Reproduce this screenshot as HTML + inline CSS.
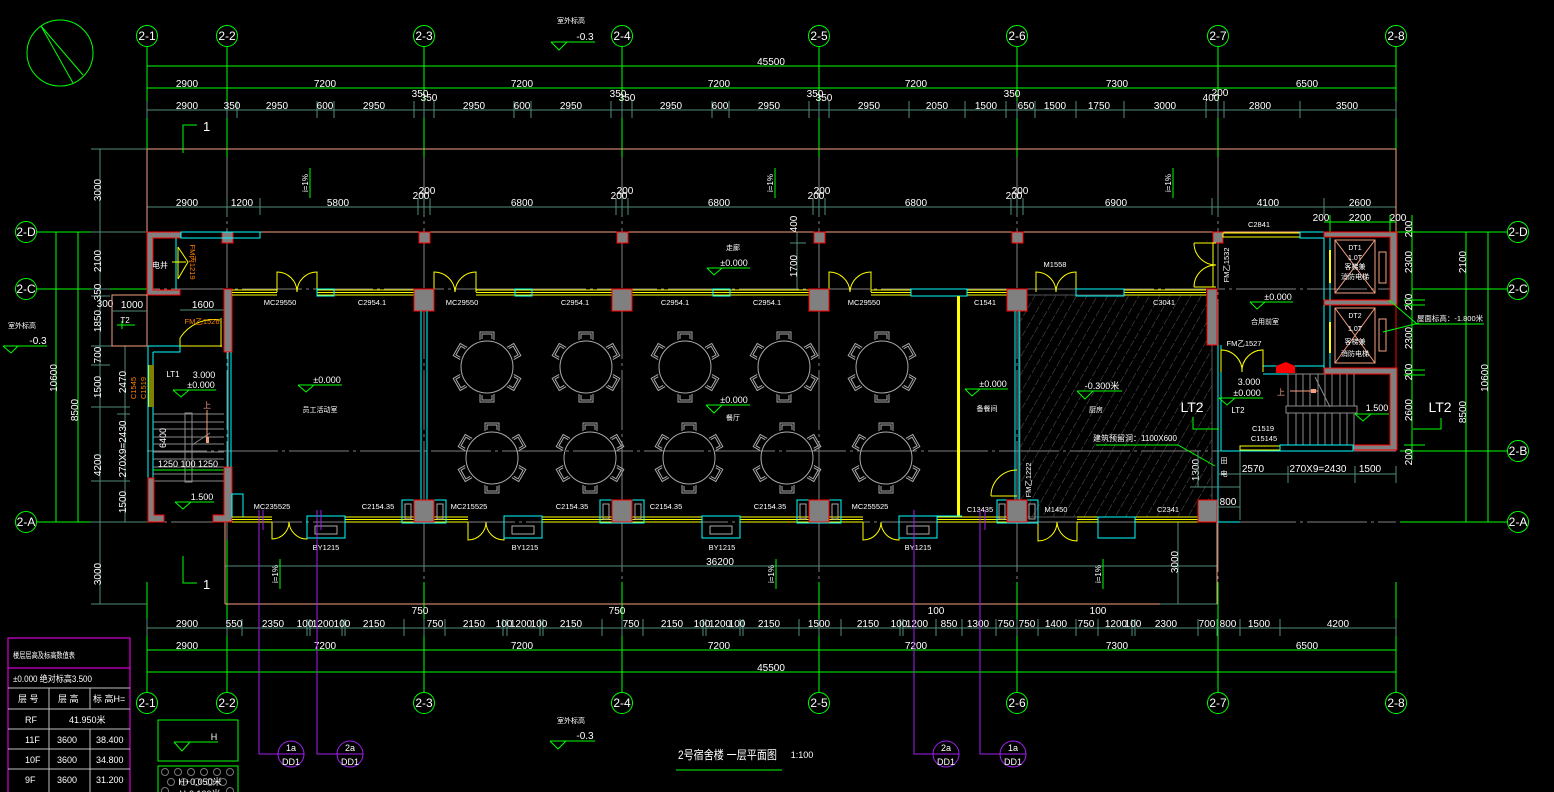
<!DOCTYPE html>
<html><head><meta charset="utf-8"><style>
html,body{margin:0;padding:0;background:#000;}
svg{display:block;}
text{font-family:"Liberation Sans","Noto Sans CJK SC",sans-serif;fill:#fff;}
.d{font-size:10px;text-anchor:middle;}
.ax{font-size:12px;text-anchor:middle;}
.o{fill:#ff8000;font-size:7.5px;text-anchor:middle;}
.s{font-size:8px;text-anchor:middle;}
.g{fill:#0f0;}
</style></head><body>
<svg width="1554" height="792" viewBox="0 0 1554 792" xmlns="http://www.w3.org/2000/svg">
<defs>
<pattern id="hat" width="9" height="9" patternUnits="userSpaceOnUse" patternTransform="rotate(30)">
<line x1="0" y1="0" x2="0" y2="9" stroke="#5a5a5a" stroke-width="1" stroke-dasharray="5 2"/>
</pattern>
<g id="ch"><path d="M-7,-27V-35H7V-27M-5,-28V-33H5V-28" fill="none" stroke="#aaa"/></g>
<g id="tb"><circle r="26" fill="none" stroke="#aaa"/>
<use href="#ch"/><use href="#ch" transform="rotate(60)"/><use href="#ch" transform="rotate(120)"/><use href="#ch" transform="rotate(180)"/><use href="#ch" transform="rotate(240)"/><use href="#ch" transform="rotate(300)"/></g>
</defs>
<rect width="1554" height="792" fill="#000"/>

<!-- North arrow -->
<circle cx="60" cy="53" r="33" fill="none" stroke="#0f0"/>
<path d="M41 26L73 83M41 26L83 75" stroke="#0f0" fill="none"/>

<!-- gray axis lines inside -->
<g stroke="#808080" stroke-dasharray="60 4 3 4" fill="none">
<path d="M227 157V582M424 157V582M622 157V582M819 157V582M1017 157V582M1218 157V582"/>
<path d="M100 289H1396M147 451H1396M100 522H1396"/>
</g>

<!-- top axis bubbles -->
<g fill="none" stroke="#0f0">
<circle cx="147" cy="36" r="10.5"/><circle cx="227" cy="36" r="10.5"/><circle cx="424" cy="36" r="10.5"/><circle cx="622" cy="36" r="10.5"/><circle cx="819" cy="36" r="10.5"/><circle cx="1017" cy="36" r="10.5"/><circle cx="1218" cy="36" r="10.5"/><circle cx="1396" cy="36" r="10.5"/>
<circle cx="147" cy="703" r="10.5"/><circle cx="227" cy="703" r="10.5"/><circle cx="424" cy="703" r="10.5"/><circle cx="622" cy="703" r="10.5"/><circle cx="819" cy="703" r="10.5"/><circle cx="1017" cy="703" r="10.5"/><circle cx="1218" cy="703" r="10.5"/><circle cx="1396" cy="703" r="10.5"/>
<circle cx="26" cy="232" r="10.5"/><circle cx="26" cy="289" r="10.5"/><circle cx="26" cy="522" r="10.5"/>
<circle cx="1518" cy="232" r="10.5"/><circle cx="1518" cy="289" r="10.5"/><circle cx="1518" cy="451" r="10.5"/><circle cx="1518" cy="522" r="10.5"/>
<path d="M147 47V149M227 47V157M424 47V157M622 47V157M819 47V157M1017 47V157M1218 47V157M1396 47V157"/>
<path d="M147 582V692M227 540V692M424 582V692M622 582V692M819 582V692M1017 582V692M1218 582V692M1396 582V692"/>
<path d="M37 232H100M37 289H147M37 522H147"/>
<path d="M1396 232H1507M1412 289H1507M1400 451H1507M1400 522H1507"/>
</g>
<g class="ax">
<text x="147" y="40" class="ax">2-1</text><text x="227" y="40" class="ax">2-2</text><text x="424" y="40" class="ax">2-3</text><text x="622" y="40" class="ax">2-4</text><text x="819" y="40" class="ax">2-5</text><text x="1017" y="40" class="ax">2-6</text><text x="1218" y="40" class="ax">2-7</text><text x="1396" y="40" class="ax">2-8</text>
<text x="147" y="707" class="ax">2-1</text><text x="227" y="707" class="ax">2-2</text><text x="424" y="707" class="ax">2-3</text><text x="622" y="707" class="ax">2-4</text><text x="819" y="707" class="ax">2-5</text><text x="1017" y="707" class="ax">2-6</text><text x="1218" y="707" class="ax">2-7</text><text x="1396" y="707" class="ax">2-8</text>
<text x="26" y="236" class="ax">2-D</text><text x="26" y="293" class="ax">2-C</text><text x="26" y="526" class="ax">2-A</text>
<text x="1518" y="236" class="ax">2-D</text><text x="1518" y="293" class="ax">2-C</text><text x="1518" y="455" class="ax">2-B</text><text x="1518" y="526" class="ax">2-A</text>
</g>

<!-- top dimension lines -->
<g stroke="#0f0" fill="none">
<path d="M147 66H1396M147 88H1396"/>
<path d="M147 62V70M1396 62V70M147 84V92M227 84V92M424 84V92M622 84V92M819 84V92M1017 84V92M1218 84V92M1396 84V92"/>
<path d="M147 650H1396M147 672H1396"/>
<path d="M147 646V654M227 646V654M424 646V654M622 646V654M819 646V654M1017 646V654M1218 646V654M1396 646V654M147 668V676M1396 668V676"/>
</g>
<g stroke="#4f8c7d" fill="none">
<path d="M147 110H1396M91 149H147M147 207H1396M91 232H147"/>
<path d="M147 101V118M227 101V118M237 101V118M317 101V118M334 101V118M414 101V118M424 101V118M434 101V118M514 101V118M531 101V118M611 101V118M622 101V118M632 101V118M712 101V118M729 101V118M809 101V118M819 101V118M829 101V118M909 101V118M965 101V118M1006 101V118M1017 101V118M1035 101V118M1076 101V118M1124 101V118M1206 101V118M1218 101V118M1224 101V118M1300 101V118M1396 101V118"/>
<path d="M147 198V215M227 198V215M260 198V215M418 198V215M424 198V215M430 198V215M616 198V215M622 198V215M628 198V215M813 198V215M819 198V215M825 198V215M1011 198V215M1017 198V215M1023 198V215M1212 198V215M1218 198V215M1324 198V215M1396 198V215"/>
<path d="M147 628H1396M225 566H1218M91 604H147M1160 604H1218"/>
<path d="M147 619V636M227 619V636M242 619V636M307 619V636M310 619V636M342 619V636M345 619V636M404 619V636M424 619V636M445 619V636M503 619V636M507 619V636M540 619V636M543 619V636M602 619V636M622 619V636M643 619V636M703 619V636M706 619V636M740 619V636M743 619V636M799 619V636M819 619V636M841 619V636M900 619V636M903 619V636M936 619V636M962 619V636M996 619V636M1017 619V636M1038 619V636M1076 619V636M1098 619V636M1132 619V636M1135 619V636M1198 619V636M1217 619V636M1240 619V636M1280 619V636M1396 619V636"/>
<path d="M100 149V604M125 346V522"/>
<path d="M91 289H110M91 296H110M91 346H180M91 365H110M91 407H130M91 481H130M91 522H147M117 414H130"/>
<path d="M1178 522V604M797 232V289M790 243H806"/>
</g>
<g stroke="#f4a080" fill="none">
<path d="M147 149H1396M147 149V232M1396 149V232M147 232H1396M225 522V604M225 604H1160M1217 522V604"/>
</g>
<g class="d">
<text x="771" y="65">45500</text>
<text x="187" y="87">2900</text><text x="325" y="87">7200</text><text x="522" y="87">7200</text><text x="719" y="87">7200</text><text x="916" y="87">7200</text><text x="1117" y="87">7300</text><text x="1307" y="87">6500</text>
<text x="187" y="109">2900</text><text x="232" y="109">350</text><text x="277" y="109">2950</text><text x="325" y="109">600</text><text x="374" y="109">2950</text><text x="420" y="97">350</text><text x="429" y="101">350</text>
<text x="474" y="109">2950</text><text x="522" y="109">600</text><text x="571" y="109">2950</text><text x="618" y="97">350</text><text x="627" y="101">350</text>
<text x="671" y="109">2950</text><text x="720" y="109">600</text><text x="769" y="109">2950</text><text x="815" y="97">350</text><text x="824" y="101">350</text>
<text x="869" y="109">2950</text><text x="937" y="109">2050</text><text x="986" y="109">1500</text><text x="1012" y="97">350</text><text x="1026" y="109">650</text><text x="1055" y="109">1500</text><text x="1099" y="109">1750</text><text x="1165" y="109">3000</text><text x="1211" y="101">400</text><text x="1220" y="96">200</text><text x="1260" y="109">2800</text><text x="1347" y="109">3500</text>
<text x="187" y="206">2900</text><text x="242" y="206">1200</text><text x="338" y="206">5800</text><text x="421" y="199">200</text><text x="427" y="194">200</text>
<text x="522" y="206">6800</text><text x="619" y="199">200</text><text x="625" y="194">200</text><text x="719" y="206">6800</text><text x="816" y="199">200</text><text x="822" y="194">200</text>
<text x="916" y="206">6800</text><text x="1014" y="199">200</text><text x="1020" y="194">200</text><text x="1116" y="206">6900</text><text x="1268" y="206">4100</text><text x="1360" y="206">2600</text>
<text x="1321" y="221">200</text><text x="1360" y="221">2200</text><text x="1398" y="221">200</text>
<text x="720" y="565">36200</text>
<text x="420" y="614">750</text><text x="617" y="614">750</text><text x="936" y="614">100</text><text x="1098" y="614">100</text>
<text x="187" y="627">2900</text><text x="234" y="627">550</text><text x="273" y="627">2350</text><text x="305" y="627">100</text><text x="323" y="627">1200</text><text x="342" y="627">100</text><text x="374" y="627">2150</text><text x="435" y="627">750</text><text x="474" y="627">2150</text><text x="504" y="627">100</text><text x="521" y="627">1200</text><text x="539" y="627">100</text><text x="571" y="627">2150</text><text x="631" y="627">750</text><text x="672" y="627">2150</text><text x="702" y="627">100</text><text x="720" y="627">1200</text><text x="737" y="627">100</text><text x="769" y="627">2150</text><text x="819" y="627">1500</text><text x="868" y="627">2150</text><text x="899" y="627">100</text><text x="917" y="627">1200</text><text x="949" y="627">850</text><text x="978" y="627">1300</text><text x="1006" y="627">750</text><text x="1027" y="627">750</text><text x="1056" y="627">1400</text><text x="1086" y="627">750</text><text x="1116" y="627">1200</text><text x="1133" y="627">100</text><text x="1166" y="627">2300</text><text x="1207" y="627">700</text><text x="1228" y="627">800</text><text x="1259" y="627">1500</text><text x="1338" y="627">4200</text>
<text x="187" y="649">2900</text><text x="325" y="649">7200</text><text x="522" y="649">7200</text><text x="719" y="649">7200</text><text x="916" y="649">7200</text><text x="1117" y="649">7300</text><text x="1307" y="649">6500</text>
<text x="771" y="671">45500</text>
</g>

<!-- left vertical dims -->
<g stroke="#0f0" fill="none"><path d="M56 232V522M78 232V522M52 232H82M52 289H82M52 522H82"/>
<path d="M1412 215V460M1466 232V522M1488 232V522M1404 232H1420M1404 300H1425M1404 305H1425M1404 370H1425M1404 375H1425M1404 445H1425M1404 451H1425M1460 232H1494M1460 289H1494M1460 522H1494M1324 222H1396M1330 215V240M1390 215V240"/></g>
<g class="d">
<text transform="rotate(-90 97 190)" x="97" y="194">3000</text>
<text transform="rotate(-90 97 261)" x="97" y="265">2100</text>
<text transform="rotate(-90 97 292)" x="97" y="296">350</text>
<text transform="rotate(-90 97 321)" x="97" y="325">1850</text>
<text transform="rotate(-90 97 355)" x="97" y="359">700</text>
<text transform="rotate(-90 97 387)" x="97" y="391">1500</text>
<text transform="rotate(-90 97 465)" x="97" y="469">4200</text>
<text transform="rotate(-90 122 502)" x="122" y="506">1500</text>
<text transform="rotate(-90 122 382)" x="122" y="386">2470</text>
<text transform="rotate(-90 122 449)" x="122" y="453">270X9=2430</text>
<text transform="rotate(-90 53 378)" x="53" y="382">10600</text>
<text transform="rotate(-90 74 410)" x="74" y="414">8500</text>
<text transform="rotate(-90 97 574)" x="97" y="578">3000</text>
<text transform="rotate(-90 1174 562)" x="1174" y="566">3000</text>
<text x="105" y="307">300</text><text x="132" y="308">1000</text><text x="203" y="308">1600</text>
<text transform="rotate(-90 1408 262)" x="1408" y="266">2300</text>
<text transform="rotate(-90 1408 229)" x="1408" y="233">200</text>
<text transform="rotate(-90 1408 302)" x="1408" y="306">200</text>
<text transform="rotate(-90 1408 338)" x="1408" y="342">2300</text>
<text transform="rotate(-90 1408 372)" x="1408" y="376">200</text>
<text transform="rotate(-90 1408 410)" x="1408" y="414">2600</text>
<text transform="rotate(-90 1408 457)" x="1408" y="461">200</text>
<text transform="rotate(-90 1462 262)" x="1462" y="266">2100</text>
<text transform="rotate(-90 1462 412)" x="1462" y="416">8500</text>
<text transform="rotate(-90 1484 378)" x="1484" y="382">10600</text>
<text transform="rotate(-90 1195 470)" x="1195" y="474">1300</text>
<text transform="rotate(-90 793 266)" x="793" y="270">1700</text>
<text transform="rotate(-90 793 224)" x="793" y="228">400</text>
<text x="1253" y="472">2570</text><text x="1318" y="472">270X9=2430</text><text x="1370" y="472">1500</text>
<text x="1228" y="505">800</text>
</g>

<!-- section marks -->
<g stroke="#0f0" fill="none"><path d="M183 153V125H197M183 556V583H197"/></g>
<text x="203" y="131" style="font-size:13px">1</text><text x="203" y="589" style="font-size:13px">1</text>

<!-- slope arrows -->
<g stroke="#0f0" fill="none"><path d="M310 168V198M775 168V198M1173 168V198M280 559V589M776 559V589M1103 559V589"/></g>
<g class="s">
<text transform="rotate(-90 305 183)" x="305" y="186">i=1%</text><text transform="rotate(-90 770 183)" x="770" y="186">i=1%</text><text transform="rotate(-90 1168 183)" x="1168" y="186">i=1%</text>
<text transform="rotate(-90 275 574)" x="275" y="577">i=1%</text><text transform="rotate(-90 771 574)" x="771" y="577">i=1%</text><text transform="rotate(-90 1098 574)" x="1098" y="577">i=1%</text>
</g>

<!-- outdoor elevations -->
<g stroke="#0f0" fill="none">
<path d="M3 346H47M3 346L11 353L18 346"/>
<path d="M551 42H595M551 42L559 50L567 42"/>
<path d="M550 741H595M550 741L558 749L566 741"/>
</g>
<text x="8" y="328" class="s" style="text-anchor:start;font-size:7px">室外标高</text><text x="38" y="344" class="d">-0.3</text>
<text x="557" y="23" class="s" style="text-anchor:start;font-size:7px">室外标高</text><text x="585" y="40" class="d">-0.3</text>
<text x="557" y="723" class="s" style="text-anchor:start;font-size:7px">室外标高</text><text x="585" y="739" class="d">-0.3</text>

<!-- ============ BUILDING ============ -->
<!-- kitchen hatch -->
<rect x="1020" y="295" width="192" height="222" fill="url(#hat)" stroke="#555"/>

<!-- top salmon wall of corridor already drawn; columns on 2-D -->
<g fill="#808080" stroke="#f00">
<rect x="222" y="232" width="11" height="11"/><rect x="419" y="232" width="11" height="11"/><rect x="617" y="232" width="11" height="11"/><rect x="814" y="232" width="11" height="11"/><rect x="1012" y="232" width="11" height="11"/><rect x="1213" y="232" width="10" height="11"/>
</g>

<!-- left block -->
<path d="M147 232H181V238H153V290H180V295H147Z" fill="#808080" stroke="#f00"/>
<rect x="181" y="232" width="79" height="6" fill="none" stroke="#0ff"/>
<path d="M176 238V289" stroke="#0ff"/>
<path d="M178 247V279M178 247L188 262L178 279M172 262H186" stroke="#ff0" fill="none"/>
<text transform="rotate(90 193 262)" x="193" y="265" class="o">FM丙1219</text>
<text x="160" y="268" class="s" style="font-size:8px">电井</text>
<rect x="112" y="295" width="35" height="51" fill="none" stroke="#f4a080"/>
<path d="M112 311H147" stroke="#4f8c7d"/>
<path d="M117 325H135M122 321V329" stroke="#0f0"/>
<text x="125" y="323" class="s">T2</text>
<path d="M180 310H224" stroke="#4f8c7d"/>
<rect x="224" y="289" width="8" height="63" fill="#808080" stroke="#f00"/>
<path d="M180 347V338M180 338A40 40 0 0 1 220 320M221 318V347M180 346H222" stroke="#ff0" fill="none"/>
<text x="202" y="324" class="o">FM乙1526</text>
<path d="M148 346V478M153 352V478M153 352H180V346M148 346H180" stroke="#0ff" fill="none"/>
<path d="M149 365V407M151 365V407M153 365V407" stroke="#ff0"/>
<path d="M153 414H224M153 422H224M153 429H224M153 437H224M153 444H224M153 452H224M153 459H224M153 467H224M153 474H224M153 481H224" stroke="#8a8a8a"/>
<rect x="185" y="413" width="7" height="69" fill="none" stroke="#8a8a8a"/>
<path d="M192 445L210 433" stroke="#8a8a8a"/>
<path d="M153 470H224" stroke="#0f0"/>
<path d="M207 410V437" stroke="#f4a080"/><rect x="206" y="437" width="3" height="6" fill="#f4a080"/>
<text x="207" y="408" class="s" style="fill:#f4a080">上</text>
<path d="M148 478H154V515H164V522H148Z" fill="#808080" stroke="#f00"/>
<path d="M213 515H224V467H232V522H213Z" fill="#808080" stroke="#f00"/>
<path d="M228 352V467M231 352V467" stroke="#0ff"/>
<rect x="232" y="494" width="11" height="23" fill="none" stroke="#0ff"/>
<text x="173" y="377" class="s">LT1</text>
<text x="204" y="378" class="s" style="font-size:9px">3.000</text><text x="201" y="388" class="s" style="font-size:9px">±0.000</text>
<path d="M173 390H216M173 390L181 397L189 390" stroke="#0f0" fill="none"/>
<text transform="rotate(-90 163 438)" x="163" y="441" class="s" style="font-size:9px">6400</text>
<text x="188" y="467" class="s" style="font-size:9px">1250 100 1250</text>
<text x="202" y="500" class="s" style="font-size:9px">1.500</text>
<path d="M175 502H214M175 502L183 509L191 502" stroke="#0f0" fill="none"/>
<text transform="rotate(-90 133 388)" x="133" y="391" class="o">C1545</text>
<text transform="rotate(-90 143 388)" x="143" y="391" class="o">C1519</text>

<!-- staff room -->
<text x="327" y="383" class="s" style="font-size:9px">±0.000</text>
<path d="M298 385H342M298 385L306 392L314 385" stroke="#0f0" fill="none"/>
<text x="320" y="412" class="s" style="font-size:7px">员工活动室</text>

<!-- top wall windows -->
<g stroke="#ff0" fill="none">
<path d="M232 290H277M232 292.5H277M232 295H277M317 290H415M317 292.5H415M317 295H415M476 290H612M476 292.5H612M476 295H612M632 290H810M632 292.5H810M632 295H810M871 290H911M871 292.5H911M871 295H911M967 290H1007M967 292.5H1007M967 295H1007M1124 290H1206M1124 292.5H1206M1124 295H1206"/>
<path d="M277 292V272A20 20 0 0 1 297 292M317 292V272A20 20 0 0 0 297 292"/>
<path d="M434 292V272A21 21 0 0 1 455 292M476 292V272A21 21 0 0 0 455 292"/>
<path d="M829 292V272A21 21 0 0 1 850 292M871 292V272A21 21 0 0 0 850 292"/>
<path d="M1036 292V272A20 20 0 0 1 1056 292M1076 292V272A20 20 0 0 0 1056 292"/>
</g>
<g stroke="#0ff" fill="none">
<rect x="317" y="289" width="17" height="7"/><rect x="515" y="289" width="17" height="7"/><rect x="713" y="289" width="17" height="7"/><rect x="911" y="289" width="56" height="7"/><rect x="1076" y="289" width="48" height="7"/>
</g>
<g fill="#808080" stroke="#f00">
<rect x="414" y="289" width="20" height="22"/><rect x="612" y="289" width="20" height="22"/><rect x="809" y="289" width="20" height="22"/><rect x="1007" y="289" width="20" height="22"/><rect x="1207" y="289" width="10" height="56"/>
</g>
<path d="M421 311V500M427 311V500M1015 311V500M1019 311V500M1218 345V522" stroke="#0ff" fill="none"/>
<rect x="957" y="296" width="3" height="220" fill="#ff0"/>

<!-- tables -->
<use href="#tb" x="487" y="367"/><use href="#tb" x="586" y="367"/><use href="#tb" x="685" y="367"/><use href="#tb" x="784" y="367"/><use href="#tb" x="882" y="367"/>
<use href="#tb" x="492" y="458"/><use href="#tb" x="590" y="458"/><use href="#tb" x="689" y="458"/><use href="#tb" x="787" y="458"/><use href="#tb" x="886" y="458"/>

<!-- bottom wall -->
<g stroke="#ff0" fill="none">
<path d="M232 517H272M232 519.5H272M232 522H272M345 517H414M345 519.5H414M345 522H414M434 517H468M434 519.5H468M434 522H468M542 517H612M542 519.5H612M542 522H612M632 517H702M632 519.5H702M632 522H702M740 517H809M740 519.5H809M740 522H809M829 517H863M829 519.5H863M829 522H863M937 517H1007M937 519.5H1007M937 522H1007M1077 517H1098M1077 519.5H1098M1077 522H1098M1135 517H1198M1135 519.5H1198M1135 522H1198"/>
<path d="M272 522V539A17 17 0 0 0 289 522M307 522V539A18 18 0 0 1 289 522"/>
<path d="M468 522V540A18 18 0 0 0 486 522M504 522V540A18 18 0 0 1 486 522"/>
<path d="M863 522V540A18 18 0 0 0 881 522M899 522V540A18 18 0 0 1 881 522"/>
<path d="M1038 522V541A19 19 0 0 0 1057 522M1077 522V541A20 20 0 0 1 1057 522"/>
<path d="M991 496H1017M991 496A26 26 0 0 1 1017 470"/>
</g>
<g stroke="#0ff" fill="none">
<rect x="307" y="516" width="38" height="22"/><rect x="504" y="516" width="38" height="22"/><rect x="702" y="516" width="38" height="22"/><rect x="899" y="516" width="38" height="22"/><rect x="1098" y="517" width="37" height="21"/>
<rect x="402" y="500" width="44" height="23"/><rect x="600" y="500" width="44" height="23"/><rect x="797" y="500" width="44" height="23"/><rect x="997" y="500" width="41" height="23"/>
<path d="M900 516H962M1218 522H1240"/>
</g>
<g stroke="#aaa" fill="none">
<rect x="315" y="526" width="22" height="8"/><rect x="512" y="526" width="22" height="8"/><rect x="710" y="526" width="22" height="8"/><rect x="907" y="526" width="22" height="8"/>
<rect x="405" y="504" width="6" height="15"/><rect x="437" y="504" width="6" height="15"/><rect x="603" y="504" width="6" height="15"/><rect x="635" y="504" width="6" height="15"/><rect x="800" y="504" width="6" height="15"/><rect x="832" y="504" width="6" height="15"/><rect x="999" y="504" width="6" height="15"/><rect x="1029" y="504" width="6" height="15"/>
</g>
<g fill="#808080" stroke="#f00">
<rect x="414" y="500" width="20" height="22"/><rect x="612" y="500" width="20" height="22"/><rect x="809" y="500" width="20" height="22"/><rect x="1007" y="500" width="20" height="22"/><rect x="1198" y="500" width="19" height="22"/>
</g>

<!-- labels orange -->
<g class="o">
<text x="280" y="305">MC29550</text><text x="372" y="305">C2954.1</text><text x="462" y="305">MC29550</text><text x="575" y="305">C2954.1</text><text x="675" y="305">C2954.1</text><text x="767" y="305">C2954.1</text><text x="864" y="305">MC29550</text><text x="985" y="305">C1541</text><text x="1164" y="305">C3041</text>
<text x="1055" y="267">M1558</text><text x="1259" y="227">C2841</text>
<text x="272" y="509">MC235525</text><text x="378" y="509">C2154.35</text><text x="469" y="509">MC215525</text><text x="572" y="509">C2154.35</text><text x="666" y="509">C2154.35</text><text x="770" y="509">C2154.35</text><text x="870" y="509">MC255525</text><text x="980" y="512">C13435</text><text x="1056" y="512">M1450</text><text x="1168" y="512">C2341</text>
<text x="326" y="550">BY1215</text><text x="525" y="550">BY1215</text><text x="722" y="550">BY1215</text><text x="918" y="550">BY1215</text>
<text transform="rotate(-90 1028 480)" x="1028" y="483">FM乙1222</text>
<text transform="rotate(-90 1226 265)" x="1226" y="268">FM乙1532</text>
<text x="1244" y="346">FM乙1527</text>
<text x="1263" y="431">C1519</text><text x="1264" y="441">C15145</text>
</g>

<!-- room texts -->
<text x="734" y="266" class="s" style="font-size:9px">±0.000</text>
<path d="M707 268H750M707 268L714 275L722 268" stroke="#0f0" fill="none"/>
<text x="733" y="250" class="s" style="font-size:7px">走廊</text>
<text x="734" y="403" class="s" style="font-size:9px">±0.000</text>
<path d="M706 405H750M706 405L714 413L722 405" stroke="#0f0" fill="none"/>
<text x="733" y="420" class="s" style="font-size:7px">餐厅</text>
<text x="993" y="387" class="s" style="font-size:9px">±0.000</text>
<path d="M965 389H1008M965 389L972 396L980 389" stroke="#0f0" fill="none"/>
<text x="987" y="411" class="s" style="font-size:7px">备餐间</text>
<text x="1102" y="389" class="s" style="font-size:9px">-0.300米</text>
<path d="M1077 391H1122M1077 391L1085 399L1093 391" stroke="#0f0" fill="none"/>
<text x="1096" y="412" class="s" style="font-size:7px">厨房</text>
<text x="1135" y="441" class="s" style="font-size:8px">建筑预留洞：1100X600</text>
<path d="M1096 445H1178L1215 466" stroke="#0f0" fill="none"/>
<text x="1192" y="412" style="font-size:14px;text-anchor:middle">LT2</text>
<path d="M1193 417V429H1219" stroke="#0f0" fill="none"/>

<!-- right block -->
<rect x="1223" y="233" width="77" height="4" fill="none" stroke="#ff0"/>
<rect x="1300" y="232" width="24" height="6" fill="none" stroke="#0ff"/>
<path d="M1324 232H1397V305H1324V300H1390V237H1324Z" fill="#808080" stroke="#f00"/>
<path d="M1324 368H1397V450H1353V445H1390V374H1324Z" fill="#808080" stroke="#f00"/>
<path d="M1396 305V368" stroke="#f00"/>
<path d="M1324 238V300M1330 238V300M1324 305V368M1330 305V368M1263 374H1324M1263 366H1324M1221 345V451M1221 451H1353" stroke="#0ff" fill="none"/>
<path d="M1330 250V283M1330 322V353" stroke="#ff0" stroke-width="2"/>
<g stroke="#f4a080" fill="none">
<rect x="1335" y="240" width="40" height="53"/><path d="M1335 240L1375 293M1375 240L1335 293"/>
<rect x="1335" y="308" width="40" height="55"/><path d="M1335 308L1375 363M1375 308L1335 363"/>
<rect x="1379" y="252" width="7" height="31"/><rect x="1379" y="319" width="7" height="32"/>
</g>
<g class="s" style="font-size:7px">
<text x="1355" y="250">DT1</text><text x="1355" y="260">1.0T</text><text x="1355" y="269">客梯兼</text><text x="1355" y="279">消防电梯</text>
<text x="1355" y="318">DT2</text><text x="1355" y="331">1.0T</text><text x="1355" y="344">客梯兼</text><text x="1355" y="356">消防电梯</text>
</g>
<path d="M1288 374V406M1296 374V406M1303 374V406M1310 374V406M1318 374V406M1325 374V406M1332 374V406M1340 374V406M1347 374V406M1354 374V406M1288 413V445M1296 413V445M1303 413V445M1310 413V445M1318 413V445M1325 413V445M1332 413V445M1340 413V445M1347 413V445M1354 413V445M1288 374H1324" stroke="#8a8a8a" fill="none"/>
<rect x="1286" y="406" width="71" height="7" fill="none" stroke="#8a8a8a"/>
<path d="M1315 377L1330 407" stroke="#8a8a8a"/>
<path d="M1290 391H1318" stroke="#f4a080"/><rect x="1311" y="389" width="5" height="4" fill="#f4a080"/>
<text x="1281" y="395" class="s" style="fill:#f4a080">上</text>
<path d="M1276 373H1295V366L1286 362L1276 366Z" fill="#f00"/>
<rect x="1240" y="446" width="40" height="4" fill="none" stroke="#ff0"/>
<rect x="1280" y="445" width="73" height="6" fill="none" stroke="#0ff"/>
<path d="M1194 243H1216M1194 287H1216M1194 243A22 22 0 0 0 1216 265M1194 287A22 22 0 0 1 1216 265M1213 243V287" stroke="#ff0" fill="none"/>
<path d="M1221 372V350A21 21 0 0 1 1242 372M1263 372V350A21 21 0 0 0 1242 372" stroke="#ff0" fill="none"/>
<text x="1278" y="300" class="s" style="font-size:9px">±0.000</text>
<path d="M1250 302H1293M1250 302L1257 309L1265 302" stroke="#0f0" fill="none"/>
<text x="1265" y="324" class="s" style="font-size:7px">合用前室</text>
<text x="1249" y="385" class="s" style="font-size:9px">3.000</text><text x="1247" y="396" class="s" style="font-size:9px">±0.000</text>
<path d="M1219 398H1263M1219 398L1227 405L1235 398" stroke="#0f0" fill="none"/>
<text x="1238" y="413" class="s">LT2</text>
<text x="1377" y="411" class="s" style="font-size:9px">1.500</text>
<path d="M1355 414H1389M1355 414L1363 421L1371 414" stroke="#0f0" fill="none"/>
<path d="M1218 474H1396M1240 466V483M1288 466V483M1355 466V483M1396 466V483M1198 451V487M1190 487H1240M1240 451V520M1218 507H1240" stroke="#4f8c7d" fill="none"/>
<text x="1224" y="463" class="s" style="font-size:7px">田</text><text x="1224" y="476" class="s" style="font-size:7px">电</text>

<!-- right labels -->
<text x="1440" y="412" style="font-size:14px;text-anchor:middle">LT2</text>
<path d="M1441 418V429H1413" stroke="#0f0" fill="none"/>
<text x="1450" y="321" class="s" style="font-size:7.5px">屋面标高：-1.800米</text>
<path d="M1414 324H1484M1389 300L1417 324M1383 332L1419 323" stroke="#0f0" fill="none"/>

<!-- purple DD1 lines -->
<g stroke="#a020f0" fill="none">
<path d="M259 510V754H278M263 510V530M317 510V754H337M321 510V530M914 510V754H933M980 510V754H1000M985 510V530"/>
<circle cx="291" cy="754" r="13"/><circle cx="350" cy="754" r="13"/><circle cx="946" cy="754" r="13"/><circle cx="1013" cy="754" r="13"/>
<path d="M278 754H304M337 754H363M933 754H959M1000 754H1026"/>
</g>
<g class="s" style="font-size:9px">
<text x="291" y="751">1a</text><text x="291" y="765">DD1</text><text x="350" y="751">2a</text><text x="350" y="765">DD1</text>
<text x="946" y="751">2a</text><text x="946" y="765">DD1</text><text x="1013" y="751">1a</text><text x="1013" y="765">DD1</text>
</g>

<!-- title -->
<text x="678" y="759" style="font-size:12px" textLength="99" lengthAdjust="spacingAndGlyphs">2号宿舍楼 一层平面图</text>
<text x="802" y="758" class="s" style="font-size:9px">1:100</text>
<path d="M676 770H782" stroke="#0f0"/>

<!-- legend table -->
<rect x="8" y="638" width="122" height="160" fill="none" stroke="#f0f"/>
<path d="M8 668H130" stroke="#f0f"/>
<path d="M8 688H130M8 709H130M8 729H130M8 749H130M8 769H130M49 688V792M90 688V709M90 729V792" stroke="#c0c0c0" fill="none"/>
<g class="g" style="font-size:9px">
<text x="13" y="658" textLength="62" lengthAdjust="spacingAndGlyphs" style="font-size:8px">楼层层高及标高数值表</text>
<text x="13" y="682" textLength="79" lengthAdjust="spacingAndGlyphs">±0.000 绝对标高3.500</text>
<text x="18" y="702">层 号</text><text x="58" y="702">层 高</text><text x="93" y="702">标 高H=</text>
<text x="25" y="723">RF</text><text x="69" y="723">41.950米</text>
<text x="25" y="743">11F</text><text x="57" y="743">3600</text><text x="96" y="743">38.400</text>
<text x="25" y="763">10F</text><text x="57" y="763">3600</text><text x="96" y="763">34.800</text>
<text x="25" y="783">9F</text><text x="57" y="783">3600</text><text x="96" y="783">31.200</text>
</g>

<!-- elevation legend -->
<rect x="158" y="720" width="80" height="41" fill="none" stroke="#0f0"/>
<path d="M174 742H218M174 742L182 751L190 742" stroke="#0f0" fill="none"/>
<text x="214" y="740" class="s" style="font-size:9px">H</text>
<rect x="158" y="766" width="80" height="30" fill="none" stroke="#0f0"/>
<g stroke="#777" fill="none">
<circle cx="165" cy="772" r="3.5"/><circle cx="178" cy="772" r="3.5"/><circle cx="191" cy="772" r="3.5"/><circle cx="204" cy="772" r="3.5"/><circle cx="217" cy="772" r="3.5"/><circle cx="230" cy="772" r="3.5"/>
<circle cx="171" cy="782" r="3.5"/><circle cx="184" cy="782" r="3.5"/><circle cx="197" cy="782" r="3.5"/><circle cx="210" cy="782" r="3.5"/><circle cx="223" cy="782" r="3.5"/>
<circle cx="165" cy="791" r="3.5"/><circle cx="230" cy="791" r="3.5"/>
</g>
<text x="200" y="785" class="s" style="font-size:9px">H+0.050米</text>
<text x="200" y="797" class="s" style="font-size:9px">H-0.100米</text>
</svg>
</body></html>
